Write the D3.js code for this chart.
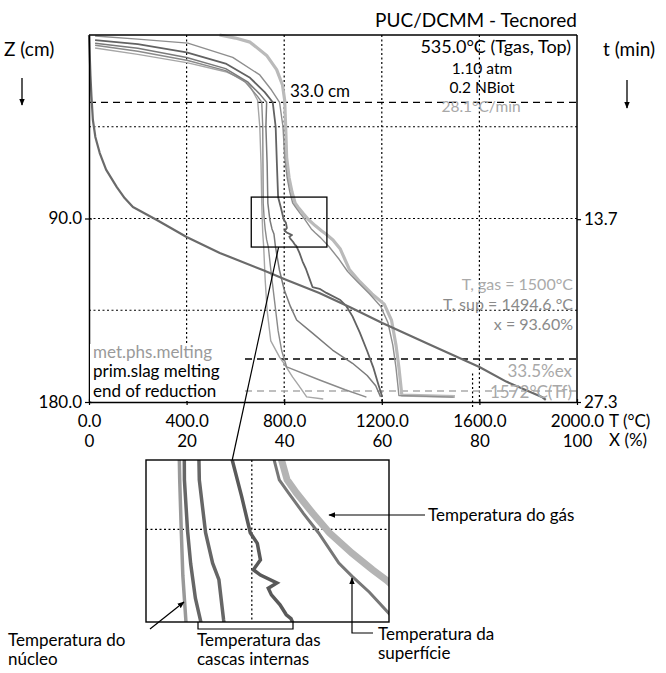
<!DOCTYPE html>
<html>
<head>
<meta charset="utf-8">
<script src="https://cdn.jsdelivr.net/npm/d3@7"></script>
<style>
  body { margin: 0; background: #fff; }
  svg text { font-family: Lato, "DejaVu Sans", sans-serif; }
</style>
</head>
<body>
<div id="chart"></div>
<script>
// ticks and grid
const tempTicks = [0, 400, 800, 1200, 1600, 2000];
const convTicks = [0, 20, 40, 60, 80, 100];
const depthTicks = [90, 180];
const timeTicks = [13.7, 27.3];
const tempGrid = [400, 800, 1200, 1600];
const depthGrid = [45, 90, 135];
const depthDashed = [33, 158.9];
const depthReduction = 174.6;
const tempMelt = 1572;

// temperature profiles, [T (°C), Z (cm)]
const gasTemp = [[535,0],[600,1.5],[660,3.5],[728,10],[769,17],[793,24.5],[802,32],[806,45],[810,60],[820,70],[832,77],[845,82.5],[857,84.5],[878,87.6],[899,90.5],[928,93.6],[954,96.1],[971,97.6],[1000,100.5],[1030,105],[1067,115],[1110,121],[1160,127],[1210,132],[1240,140],[1258,152],[1270,163],[1278,172],[1282,176.6],[1500,177.3]];
const surfTemp = [[25,0.5],[200,2],[405,4],[589,11],[700,19.6],[748,27],[781,33],[795,45],[802,60],[812,70],[823,77],[835,82.5],[847,84.5],[866,87.6],[885,90.5],[911,95.1],[928,97.1],[950,99.5],[985,104],[1025,110],[1060,116],[1100,121],[1150,127],[1195,133],[1225,141],[1245,152],[1258,163],[1266,172],[1270,176.8],[1494.6,177.6]];
const shell3Temp = [[25,2.5],[200,4.5],[400,8.5],[560,14],[660,21],[720,28],[753,33],[765,45],[770,63],[775,79.5],[787,85],[798,90.5],[807,92.1],[811,94.6],[802,96.1],[811,96.9],[832,98.1],[821,98.9],[825,99.9],[836,101.4],[844,102.9],[850,103.5],[863,107],[875,111],[890,115],[905,120],[916,123.6],[945,124.5],[973,126.5],[1030,130],[1055,133],[1080,138],[1110,146],[1140,155],[1165,163],[1185,171],[1202,177.5]];
const shell2Temp = [[25,4],[200,6.5],[400,11],[560,16.5],[650,23],[700,29],[728,33],[725,45],[730,63],[733,82.5],[741,90.5],[750,95.1],[758,97.6],[764,103.7],[780,115],[800,125],[825,133],[851,139.8],[916,146.2],[998,154.5],[1080,161],[1140,167],[1175,172],[1195,177.5]];
const shell1Temp = [[25,5],[200,8],[405,12.5],[560,17.5],[640,23],[690,30],[708,33],[712,45],[713,63],[714,82.5],[718,90.2],[722,95.2],[728,100.4],[735,104],[745,115],[760,130],[775,145],[790,155],[810,162.8],[945,169.2],[1050,174],[1137,177.6]];
const coreTemp = [[25,6.4],[200,9.5],[405,13.7],[560,18],[618,21],[660,25],[691,32],[700,45],[705,63],[708,82.5],[710,90.2],[712,97],[716,104],[722,120],[730,135],[745,150],[781,158],[793,160],[834,167.7],[860,172],[892,177.5],[960,178.5]];
// reduction degree, [X (%), Z (cm)]
const reduction = [[0,0],[0.3,20],[0.5,30],[0.8,41.7],[1.3,50],[2.2,57.9],[3.5,66],[5.7,74.6],[7.3,80],[9,84.4],[13.9,90.7],[20,99.1],[26.8,106.9],[35.6,115.3],[40.5,120.2],[47.2,126.5],[53.4,133.4],[60.1,141.3],[70,152],[80,162.8],[85.5,170],[92.8,177.5],[93.6,179]];

// zoom window [T0, T1, Z0, Z1]
const zoomWin = [665, 975, 79.5, 104];

const W = 666, H = 673;
const M = { left: 89, right: 577, top: 35, bottom: 402 };

const svg = d3.select('#chart').append('svg').attr('width', W).attr('height', H);

const defs = svg.append('defs');
defs.append('marker').attr('id', 'arrow')
  .attr('viewBox', '0 -5 10 10').attr('refX', 9).attr('refY', 0)
  .attr('markerWidth', 7).attr('markerHeight', 7).attr('markerUnits', 'userSpaceOnUse')
  .attr('orient', 'auto')
  .append('path').attr('d', 'M0,-4L10,0L0,4Z').attr('fill', '#000');

const x = d3.scaleLinear().domain([0, 2000]).range([M.left, M.right]);
const xc = d3.scaleLinear().domain([0, 100]).range([M.left, M.right]);
const y = d3.scaleLinear().domain([0, 180]).range([M.top, M.bottom]);
const yt = d3.scaleLinear().domain([0, 27.3]).range([M.top, M.bottom]);

const series = [
  { data: gasTemp, color: '#bababa', w: 3.2, wi: 7 },
  { data: surfTemp, color: '#8e8e8e', w: 1.4, wi: 3 },
  { data: coreTemp, color: '#a6a6a6', w: 1.4, wi: 3.5 },
  { data: shell1Temp, color: '#8a8a8a', w: 1.4, wi: 3.5 },
  { data: shell2Temp, color: '#7a7a7a', w: 1.5, wi: 3.5 },
  { data: shell3Temp, color: '#626262', w: 1.8, wi: 3.5 }
];

// grid
const grid = svg.append('g');
grid.selectAll('.vg').data(tempGrid).join('line')
  .attr('x1', d => x(d)).attr('x2', d => x(d)).attr('y1', M.top).attr('y2', M.bottom)
  .attr('stroke', '#000').attr('stroke-width', 1.2).attr('stroke-dasharray', '2,2.5');
grid.selectAll('.hg').data(depthGrid).join('line')
  .attr('x1', M.left).attr('x2', M.right).attr('y1', d => y(d)).attr('y2', d => y(d))
  .attr('stroke', '#000').attr('stroke-width', 1.2).attr('stroke-dasharray', '2,2.5');
grid.selectAll('.hd').data(depthDashed).join('line')
  .attr('x1', M.left).attr('x2', M.right).attr('y1', d => y(d)).attr('y2', d => y(d))
  .attr('stroke', '#000').attr('stroke-width', 1.3).attr('stroke-dasharray', '7,5');
grid.append('line')
  .attr('x1', M.left).attr('x2', M.right).attr('y1', y(depthReduction)).attr('y2', y(depthReduction))
  .attr('stroke', '#aaa').attr('stroke-width', 1.3).attr('stroke-dasharray', '7,5');
grid.append('line')
  .attr('x1', x(tempMelt)).attr('x2', x(tempMelt)).attr('y1', y(166)).attr('y2', M.bottom + 6)
  .attr('stroke', '#000').attr('stroke-width', 1.2).attr('stroke-dasharray', '2,2.5');

// curves
const line = d3.line().x(d => x(d[0])).y(d => y(d[1]));
const lineX = d3.line().x(d => xc(d[0])).y(d => y(d[1]));
const curves = svg.append('g').attr('fill', 'none').attr('stroke-linejoin', 'round');
series.forEach(s => {
  curves.append('path').datum(s.data).attr('d', line)
    .attr('stroke', s.color).attr('stroke-width', s.w);
});
curves.append('path').datum(reduction).attr('d', lineX)
  .attr('stroke', '#6a6a6a').attr('stroke-width', 2.2);

// frame and axes
svg.append('line').attr('x1', M.left).attr('x2', M.right).attr('y1', M.top).attr('y2', M.top)
  .attr('stroke', '#000').attr('stroke-width', 1.5);
svg.append('line').attr('x1', M.right).attr('x2', M.right).attr('y1', M.top).attr('y2', M.bottom)
  .attr('stroke', '#000').attr('stroke-width', 1.5);

const axB = svg.append('g').attr('transform', `translate(0,${M.bottom})`)
  .call(d3.axisBottom(x).tickValues(tempTicks).tickFormat(d3.format('.1f'))
    .tickSizeInner(3).tickSizeOuter(0).tickPadding(12));
axB.selectAll('.tick line').attr('y1', -3);
const axB2 = svg.append('g').attr('transform', `translate(0,${M.bottom})`)
  .call(d3.axisBottom(xc).tickValues(convTicks).tickFormat(d3.format('d'))
    .tickSize(0).tickPadding(35));
axB2.select('.domain').remove();

const axL = svg.append('g').attr('transform', `translate(${M.left},0)`)
  .call(d3.axisLeft(y).tickValues(depthTicks).tickFormat(d3.format('.1f'))
    .tickSizeInner(4).tickSizeOuter(0).tickPadding(3));
axL.selectAll('.tick line').attr('x1', 3);

const axR = svg.append('g').attr('transform', `translate(${M.right},0)`)
  .call(d3.axisRight(yt).tickValues(timeTicks).tickFormat(d3.format('.1f'))
    .tickSizeInner(4).tickSizeOuter(0).tickPadding(3));
axR.select('.domain').remove();

[axB, axB2, axL, axR].forEach(a => {
  a.selectAll('.domain').attr('stroke', '#000').attr('stroke-width', 1.5);
  a.selectAll('.tick line').attr('stroke', '#000').attr('stroke-width', 1.2);
  a.selectAll('text').attr('font-size', 17).attr('fill', '#000')
    .style('font-family', 'Lato, "DejaVu Sans", sans-serif');
});
axB.selectAll('text').attr('dy', '0.6em');
axB2.selectAll('text').attr('dy', '0.6em');

// text labels
function label(txt, px, py, opts = {}) {
  return svg.append('text').attr('x', px).attr('y', py)
    .attr('font-size', opts.size || 17)
    .attr('text-anchor', opts.anchor || 'start')
    .attr('fill', opts.fill || '#000')
    .text(txt);
}
label('PUC/DCMM - Tecnored', M.right, 27, { anchor: 'end', size: 19 });
label('Z (cm)', 4, 56, { size: 19 });
label('t (min)', 603, 56, { size: 19 });
svg.append('line').attr('x1', 22).attr('x2', 22).attr('y1', 78).attr('y2', 105)
  .attr('stroke', '#000').attr('stroke-width', 1.3).attr('marker-end', 'url(#arrow)');
svg.append('line').attr('x1', 627).attr('x2', 627).attr('y1', 80).attr('y2', 108)
  .attr('stroke', '#000').attr('stroke-width', 1.3).attr('marker-end', 'url(#arrow)');

label('535.0°C (Tgas, Top)', 571, 53, { anchor: 'end', size: 18 });
label('1.10 atm', 482, 74, { anchor: 'middle', size: 15.5 });
label('0.2 NBiot', 482, 93, { anchor: 'middle', size: 15.5 });
label('28.1°C/min', 481, 112, { anchor: 'middle', fill: '#a8a8a8', size: 15.5 });
label('33.0 cm', 290, 97);

label('T, gas = 1500°C', 573, 290, { anchor: 'end', fill: '#aaa', size: 16 });
label('T, sup = 1494.6 °C', 573, 310, { anchor: 'end', fill: '#8a8a8a', size: 16 });
label('x = 93.60%', 573, 330, { anchor: 'end', fill: '#8a8a8a', size: 16 });
label('33.5%ex', 572, 377, { anchor: 'end', fill: '#a8a8a8' });
label('1572°C(Tf)', 572, 398, { anchor: 'end', fill: '#a8a8a8' });

svg.append('rect').attr('x', M.left + 1).attr('y', 344).attr('width', 150).attr('height', 57).attr('fill', '#fff');
label('met.phs.melting', 93, 358, { fill: '#9a9a9a' });
label('prim.slag melting', 93, 377);
label('end of reduction', 93, 397);

label('T (°C)', 609, 427);
label('X (%)', 609, 446);

// zoom box in main plot
svg.append('rect')
  .attr('x', x(zoomWin[0])).attr('y', y(zoomWin[2]))
  .attr('width', x(zoomWin[1]) - x(zoomWin[0])).attr('height', y(zoomWin[3]) - y(zoomWin[2]))
  .attr('fill', 'none').attr('stroke', '#000').attr('stroke-width', 1.3);

// inset
const IN = { left: 146, right: 389, top: 460, bottom: 622 };
const xi = d3.scaleLinear().domain([zoomWin[0], zoomWin[1]]).range([IN.left, IN.right]);
const yi = d3.scaleLinear().domain([zoomWin[2], zoomWin[3]]).range([IN.top, IN.bottom]);

svg.append('line')
  .attr('x1', x(777)).attr('y1', y(zoomWin[3]))
  .attr('x2', xi(775)).attr('y2', IN.top)
  .attr('stroke', '#000').attr('stroke-width', 1.2);

defs.append('clipPath').attr('id', 'insetClip').append('rect')
  .attr('x', IN.left).attr('y', IN.top).attr('width', IN.right - IN.left).attr('height', IN.bottom - IN.top);
const inset = svg.append('g').attr('clip-path', 'url(#insetClip)');
inset.append('rect').attr('x', IN.left).attr('y', IN.top)
  .attr('width', IN.right - IN.left).attr('height', IN.bottom - IN.top).attr('fill', '#fff');
inset.append('line').attr('x1', xi(800)).attr('x2', xi(800)).attr('y1', IN.top).attr('y2', IN.bottom)
  .attr('stroke', '#000').attr('stroke-width', 1.2).attr('stroke-dasharray', '2,2.5');
inset.append('line').attr('x1', IN.left).attr('x2', IN.right).attr('y1', yi(90)).attr('y2', yi(90))
  .attr('stroke', '#000').attr('stroke-width', 1.2).attr('stroke-dasharray', '2,2.5');
const lineI = d3.line().x(d => xi(d[0])).y(d => yi(d[1]));
const insetColors = ['#b4b4b4', '#777', '#999', '#666', '#666', '#595959'];
series.forEach((s, i) => {
  inset.append('path').datum(s.data).attr('d', lineI)
    .attr('fill', 'none').attr('stroke', insetColors[i]).attr('stroke-width', s.wi)
    .attr('stroke-linejoin', 'miter');
});
svg.append('rect').attr('x', IN.left).attr('y', IN.top)
  .attr('width', IN.right - IN.left).attr('height', IN.bottom - IN.top)
  .attr('fill', 'none').attr('stroke', '#000').attr('stroke-width', 1.4);

// inset callouts
function path(d, arrow) {
  const p = svg.append('path').attr('d', d).attr('fill', 'none')
    .attr('stroke', '#000').attr('stroke-width', 1.2);
  if (arrow) p.attr('marker-end', 'url(#arrow)');
}
path('M425,515H329', true);
label('Temperatura do gás', 428, 521);

path('M373,633H352V578', true);
label('Temperatura da', 378, 640);
label('superfície', 378, 659);

path('M198,622V629H293V622', false);
label('Temperatura das', 197, 646);
label('cascas internas', 197, 665);

path('M150,629L184,602', true);
label('Temperatura do', 8, 646);
label('núcleo', 8, 665);
</script>
</body>
</html>
